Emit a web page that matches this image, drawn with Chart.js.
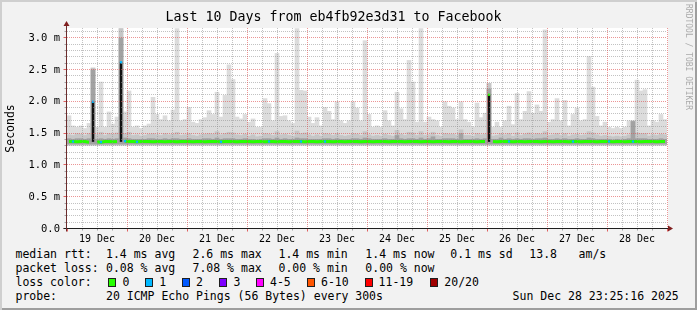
<!DOCTYPE html>
<html>
<head>
<meta charset="utf-8">
<title>Last 10 Days from eb4fb92e3d31 to Facebook</title>
<script src="https://cdn.jsdelivr.net/npm/chart.js@4/dist/chart.umd.min.js"></script>
<style>
  html, body { margin: 0; padding: 0; background: #f2f2f2; }
  #graph { position: relative; width: 697px; height: 310px; background: #f2f2f2;
    box-shadow: inset 2px 2px 0 #cfcfcf, inset -2px -2px 0 #9e9e9e;
    font-family: "DejaVu Sans Mono", monospace; color: #000; overflow: hidden; }
  #chart { position: absolute; left: 0; top: 0; }
  .txt { position: absolute; font-size: 11.5px; line-height: 14px; white-space: pre; }
  .box { position: absolute; width: 8px; height: 9px; box-sizing: border-box; border: 1px solid #1f1f1f; }
  #mark { position: absolute; left: 684px; top: 4px; writing-mode: vertical-rl; font-size: 8px; line-height: 9px; color: #ababab; white-space: pre; }
</style>
</head>
<body>
<div id="graph">
  <canvas id="chart" width="697" height="245"></canvas>
  <div id="mark">RRDTOOL / TOBI OETIKER</div>
</div>
<script>
// 150 bins of 1.6 h each, starting 19 Dec 00:00 (values in ms)
const hoursPerBin = 1.6;
const dayLabels = ["19 Dec", "20 Dec", "21 Dec", "22 Dec", "23 Dec", "24 Dec", "25 Dec", "26 Dec", "27 Dec", "28 Dec"];
const yTickLabels = ["0.0", "0.5 m", "1.0 m", "1.5 m", "2.0 m", "2.5 m", "3.0 m"];

// highest ping per bin (light smoke)
const smokeMax = [
  1.78,1.62,1.6,1.62,1.58,1.66,2.53,1.6,2.31,1.6,
  1.84,1.65,1.76,3.15,1.84,2.17,1.6,1.62,1.58,1.62,
  1.65,2.07,1.8,1.72,1.78,1.7,1.87,3.15,1.7,1.72,
  1.91,1.68,1.66,1.72,1.75,1.86,1.8,2.15,1.76,2.1,
  2.58,2.35,1.76,1.73,1.8,1.68,1.73,1.6,1.6,2.05,
  1.97,1.7,2.76,1.77,1.78,1.7,1.66,3.15,2.18,2.17,
  1.76,1.66,1.75,1.62,1.91,1.85,1.72,2.0,1.7,1.66,
  1.7,2.0,1.9,1.7,2.96,1.8,1.6,1.62,1.6,1.86,
  1.7,1.62,2.15,1.89,1.72,2.65,2.31,1.68,3.15,1.68,
  1.76,1.72,1.7,1.6,2.0,1.93,1.9,1.72,2.0,1.72,
  1.68,1.6,1.98,1.75,1.82,2.29,1.6,1.68,1.6,1.7,
  1.93,1.64,2.13,1.72,1.85,2.16,1.82,1.95,1.85,3.13,
  1.68,1.72,2.05,1.7,2.02,1.62,1.8,1.9,1.7,1.72,
  2.71,2.23,1.77,1.62,1.68,1.6,1.58,1.6,1.58,1.6,
  1.7,1.58,2.34,2.17,2.19,1.62,1.7,1.68,1.8,1.72
];
// upper pings (medium smoke)
const smokeUpper = [
  1.48,1.47,1.5,1.49,1.47,1.5,2.53,1.48,1.52,1.47,
  1.5,1.49,1.51,3.15,1.5,1.52,1.47,1.48,1.46,1.47,
  1.49,1.5,1.48,1.47,1.5,1.48,1.49,1.52,1.47,1.48,
  1.5,1.47,1.46,1.48,1.49,1.5,1.49,1.53,1.48,1.5,
  1.52,1.51,1.48,1.47,1.49,1.46,1.48,1.45,1.46,1.5,
  1.49,1.47,1.53,1.48,1.49,1.47,1.46,1.54,1.5,1.51,
  1.48,1.46,1.48,1.46,1.5,1.49,1.47,1.5,1.47,1.46,
  1.47,1.5,1.49,1.47,1.53,1.48,1.46,1.47,1.46,1.49,
  1.47,1.46,1.55,1.49,1.47,1.52,1.51,1.47,1.53,1.47,
  1.48,1.52,1.47,1.46,1.5,1.49,1.49,1.47,1.56,1.47,
  1.47,1.46,1.5,1.48,1.49,2.29,1.46,1.47,1.5,1.48,
  1.5,1.46,1.51,1.47,1.49,1.51,1.48,1.5,1.49,1.53,
  1.47,1.48,1.5,1.47,1.5,1.46,1.48,1.49,1.47,1.48,
  1.53,1.51,1.48,1.46,1.47,1.46,1.45,1.46,1.45,1.46,
  1.48,1.7,1.51,1.5,1.5,1.46,1.48,1.47,1.49,1.48
];
// dense pings around the median (dark smoke)
const smokeCore = [
  1.42,1.41,1.42,1.42,1.41,1.42,2.5,1.41,1.42,1.41,
  1.42,1.41,1.42,3.0,1.43,1.42,1.41,1.41,1.41,1.41,
  1.42,1.42,1.41,1.41,1.42,1.41,1.42,1.42,1.41,1.41,
  1.42,1.41,1.41,1.41,1.42,1.42,1.41,1.43,1.41,1.42,
  1.42,1.42,1.41,1.41,1.42,1.41,1.41,1.4,1.41,1.42,
  1.42,1.41,1.43,1.41,1.42,1.41,1.41,1.43,1.42,1.42,
  1.41,1.41,1.41,1.41,1.42,1.42,1.41,1.42,1.41,1.41,
  1.41,1.42,1.42,1.41,1.43,1.42,1.41,1.41,1.41,1.42,
  1.41,1.41,1.47,1.42,1.41,1.42,1.42,1.41,1.43,1.41,
  1.42,1.45,1.41,1.41,1.42,1.42,1.42,1.41,1.5,1.41,
  1.41,1.41,1.42,1.41,1.42,2.2,1.41,1.41,1.43,1.41,
  1.42,1.41,1.42,1.41,1.42,1.42,1.41,1.42,1.42,1.43,
  1.41,1.41,1.42,1.41,1.42,1.41,1.41,1.42,1.41,1.41,
  1.43,1.42,1.41,1.41,1.41,1.41,1.4,1.41,1.4,1.41,
  1.42,1.69,1.42,1.42,1.42,1.41,1.41,1.41,1.42,1.41
];
const median = [
  1.375,1.375,1.37,1.375,1.375,1.365,2.0,1.37,1.365,1.375,
  1.375,1.37,1.375,2.62,1.38,1.375,1.375,1.37,1.375,1.375,
  1.375,1.37,1.375,1.375,1.37,1.375,1.375,1.37,1.375,1.375,
  1.375,1.37,1.375,1.375,1.37,1.375,1.375,1.375,1.37,1.375,
  1.375,1.375,1.37,1.375,1.375,1.375,1.37,1.375,1.375,1.37,
  1.375,1.375,1.37,1.375,1.375,1.37,1.375,1.375,1.375,1.37,
  1.375,1.375,1.37,1.375,1.375,1.375,1.37,1.375,1.375,1.37,
  1.375,1.375,1.375,1.37,1.375,1.375,1.37,1.375,1.375,1.375,
  1.37,1.375,1.375,1.375,1.37,1.375,1.375,1.375,1.37,1.375,
  1.375,1.37,1.375,1.375,1.375,1.37,1.375,1.375,1.37,1.375,
  1.375,1.375,1.37,1.375,1.375,2.11,1.375,1.37,1.375,1.375,
  1.375,1.37,1.375,1.375,1.37,1.375,1.375,1.375,1.37,1.375,
  1.375,1.37,1.375,1.375,1.375,1.37,1.375,1.375,1.37,1.375,
  1.375,1.375,1.37,1.375,1.375,1.375,1.37,1.375,1.375,1.37,
  1.375,1.375,1.375,1.37,1.375,1.375,1.375,1.37,1.375,1.375
];
// bins where 1 of 20 pings was lost
const lossBins = [1, 6, 8, 13, 14, 17, 38, 50, 58, 64, 110, 126, 135, 141];

const rttStats = ["1.4 ms avg", "2.6 ms max", "1.4 ms min", "1.4 ms now", "0.1 ms sd", "13.8", "am/s"];
const lossStats = ["0.08 % avg", "7.08 % max", "0.00 % min", "0.00 % now"];
const lossLabels = ["0", "1", "2", "3", "4-5", "6-10", "11-19", "20/20"];
const lossColors = ["#26ff00", "#00b8ff", "#0059ff", "#7e00ff", "#ff00ff", "#ff5500", "#ff0000", "#a00000"];

const binTime = i => i * hoursPerBin + hoursPerBin / 2;
const bars = (tops, base) => tops.map((v, i) => ({ x: binTime(i), y: [base, v] }));
const jumps = median.map((v, i) => ({ x: binTime(i), y: v > 1.6 ? [1.37, v] : null }));
const lossSet = new Set(lossBins);

const mono = "'DejaVu Sans Mono', monospace";
const majorGrid = "rgba(222,79,79,0.6)";
const minorGrid = "rgba(143,143,143,0.55)";

const xGrid = [];
for (let h = 0; h <= 240; h += 6) xGrid.push(h);
const yGrid = [];
for (let k = 0; k <= 31; k++) yGrid.push(k / 10);

// rrdtool look: white canvas, dotted grid over the smoke, axes with arrows
const rrdFrame = {
  id: "rrdFrame",
  beforeDraw(chart) {
    const { ctx, chartArea: a } = chart;
    ctx.save();
    ctx.fillStyle = "#fff";
    ctx.fillRect(a.left, a.top, a.right - a.left + 1, a.bottom - a.top);
    ctx.restore();
  },
  afterDatasetsDraw(chart) {
    const { ctx, chartArea: a, scales: { x, y } } = chart;
    ctx.save();
    ctx.lineWidth = 1;
    ctx.setLineDash([1, 1]);
    yGrid.forEach(v => {
      const k = Math.round(v * 10);
      if (k === 0) return;
      const py = Math.round(y.getPixelForValue(v)) - 0.5;
      ctx.strokeStyle = k % 5 === 0 ? majorGrid : minorGrid;
      ctx.beginPath(); ctx.moveTo(a.left, py); ctx.lineTo(a.right, py); ctx.stroke();
    });
    xGrid.forEach(h => {
      if (h === 0) return;
      const px = Math.round(x.getPixelForValue(h)) + 0.5;
      ctx.strokeStyle = h % 24 === 0 ? majorGrid : minorGrid;
      ctx.beginPath(); ctx.moveTo(px, a.bottom); ctx.lineTo(px, a.top); ctx.stroke();
    });
    ctx.restore();
  },
  afterDraw(chart) {
    const { ctx, chartArea: a, scales: { x, y } } = chart;
    const ax = Math.round(a.left) - 0.5, ay = Math.round(a.bottom) - 0.5;
    ctx.save();
    ctx.lineWidth = 1;
    yGrid.forEach(v => {
      const k = Math.round(v * 10), py = Math.round(y.getPixelForValue(v)) - 0.5;
      ctx.strokeStyle = k % 5 === 0 ? "rgba(222,79,79,0.9)" : "rgba(143,143,143,0.8)";
      ctx.beginPath(); ctx.moveTo(ax - (k % 5 === 0 ? 3 : 2), py); ctx.lineTo(ax, py); ctx.stroke();
    });
    xGrid.forEach(h => {
      const px = Math.round(x.getPixelForValue(h)) + 0.5, major = h % 24 === 0;
      ctx.strokeStyle = major ? "rgba(222,79,79,0.9)" : "rgba(143,143,143,0.8)";
      ctx.beginPath(); ctx.moveTo(px, ay); ctx.lineTo(px, ay + (major ? 3 : 2)); ctx.stroke();
    });
    ctx.strokeStyle = "#1f1f1f";
    ctx.beginPath(); ctx.moveTo(ax - 3, ay); ctx.lineTo(a.right + 2, ay); ctx.stroke();
    ctx.strokeStyle = "#6b2c2c";
    ctx.beginPath(); ctx.moveTo(ax, ay + 3); ctx.lineTo(ax, a.top - 3); ctx.stroke();
    ctx.fillStyle = "#801f1f";
    ctx.beginPath(); ctx.moveTo(ax, a.top - 7); ctx.lineTo(ax - 3, a.top - 2); ctx.lineTo(ax + 3, a.top - 2); ctx.closePath(); ctx.fill();
    ctx.beginPath(); ctx.moveTo(a.right + 6, ay); ctx.lineTo(a.right + 1, ay - 3); ctx.lineTo(a.right + 1, ay + 3); ctx.closePath(); ctx.fill();
    ctx.restore();
  }
};

new Chart(document.getElementById("chart"), {
  data: {
    datasets: [
      {
        type: "line", order: 0, label: "median rtt",
        data: median.map((v, i) => ({ x: binTime(i), y: v })),
        borderColor: "#26ff00", borderWidth: 3,
        segment: {
          borderColor: c => Math.abs(c.p1.parsed.y - c.p0.parsed.y) > 0.2 ? "rgba(0,0,0,0)" : "#26ff00"
        },
        pointStyle: "rect", pointBorderWidth: 0,
        pointRadius: c => (lossSet.has(c.dataIndex) || median[c.dataIndex] > 1.6) ? 1.6 : 0,
        pointBackgroundColor: c => lossSet.has(c.dataIndex) ? "#00b8ff" : "#26ff00",
        tension: 0
      },
      { type: "bar", order: 1, data: jumps, backgroundColor: "#111", barPercentage: 0.6 },
      { type: "bar", order: 2, data: bars(smokeCore, 1.335), backgroundColor: "#a2a2a2" },
      { type: "bar", order: 3, data: bars(smokeUpper, 1.325), backgroundColor: "#c6c6c6" },
      { type: "bar", order: 4, data: bars(smokeMax, 1.31), backgroundColor: "#dcdcdc" }
    ]
  },
  options: {
    responsive: false,
    animation: false,
    layout: { autoPadding: false, padding: { left: 0, right: 30, top: 0, bottom: 0 } },
    datasets: { bar: { grouped: false, categoryPercentage: 1, barPercentage: 1, borderWidth: 0 } },
    plugins: {
      legend: { display: false },
      tooltip: { enabled: false },
      title: {
        display: true, text: "Last 10 Days from eb4fb92e3d31 to Facebook",
        color: "#000", font: { family: mono, size: 13.3, weight: "normal" },
        padding: { top: 10, bottom: 2 }
      }
    },
    scales: {
      x: {
        type: "linear", min: 0, max: 240, offset: false,
        afterBuildTicks: s => { s.ticks = xGrid.filter(h => h % 24 === 12).map(h => ({ value: h })); },
        afterFit: s => { s.height = 16; s.paddingLeft = 0; s.paddingRight = 0; },
        ticks: {
          autoSkip: false, maxRotation: 0, padding: 4, color: "#000",
          font: { family: mono, size: 10 },
          callback: v => dayLabels[(v - 12) / 24]
        },
        grid: { display: false, drawTicks: false, offset: false },
        border: { display: false }
      },
      y: {
        min: 0, max: 3.16,
        afterBuildTicks: s => { s.ticks = [0, 0.5, 1, 1.5, 2, 2.5, 3].map(v => ({ value: v })); },
        afterFit: s => { s.width = 67; s.paddingTop = 0; s.paddingBottom = 0; },
        ticks: {
          autoSkip: false, padding: 7, color: "#000",
          font: { family: mono, size: 10.5 },
          callback: v => yTickLabels[Math.round(v * 2)]
        },
        grid: { display: false, drawTicks: false },
        border: { display: false },
        title: { display: true, text: "Seconds", color: "#000", font: { family: mono, size: 11.5 }, padding: { top: 4, bottom: 0 } }
      }
    }
  },
  plugins: [rrdFrame]
});

// text legend under the graph
const graph = document.getElementById("graph");
function addText(x, y, s) {
  const d = document.createElement("div");
  d.className = "txt"; d.style.left = x + "px"; d.style.top = y + "px"; d.textContent = s;
  graph.appendChild(d);
}
const rowTop = [247, 261, 275, 288.5];
const statX = [106, 192.5, 278.5, 365.3, 450.3, 529.3, 578.6];
addText(15.5, rowTop[0], "median rtt:");
rttStats.forEach((s, i) => addText(statX[i], rowTop[0], s));
addText(15.5, rowTop[1], "packet loss:");
lossStats.forEach((s, i) => addText(statX[i], rowTop[1], s));
addText(15.5, rowTop[2], "loss color:");
const boxX = [108, 145, 182, 219, 256, 306.5, 365, 430];
const boxLabelX = [122.5, 159.3, 196, 233.5, 270, 321, 378.6, 444.3];
lossLabels.forEach((s, i) => {
  const b = document.createElement("div");
  b.className = "box"; b.style.left = boxX[i] + "px"; b.style.top = "278px"; b.style.background = lossColors[i];
  graph.appendChild(b);
  addText(boxLabelX[i], rowTop[2], s);
});
addText(15.5, rowTop[3], "probe:");
addText(106, rowTop[3], "20 ICMP Echo Pings (56 Bytes) every 300s");
addText(512.6, rowTop[3], "Sun Dec 28 23:25:16 2025");
</script>
</body>
</html>
